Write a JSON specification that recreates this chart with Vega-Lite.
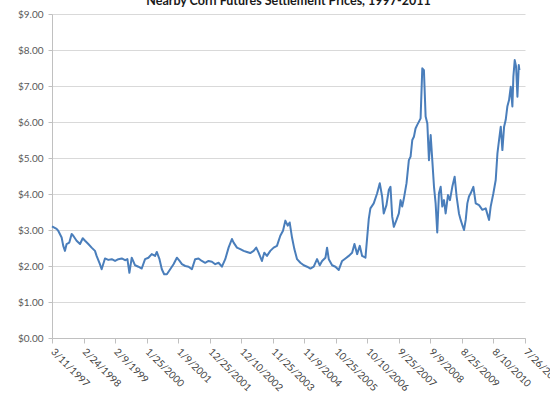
{
  "$schema": "https://vega.github.io/schema/vega-lite/v6.json",
  "width": 473,
  "height": 324,
  "autosize": {"type": "none"},
  "padding": {"left": 52, "top": 14, "right": 25, "bottom": 66},
  "background": "white",
  "title": {
    "text": "Nearby Corn Futures Settlement Prices, 1997-2011",
    "font": "Lato",
    "fontSize": 12.5,
    "fontWeight": "bold",
    "color": "#1a1a1a",
    "anchor": "middle",
    "offset": 2
  },
  "data": {
    "values": [
      {"date": "3/11/1997", "price": 3.1},
      {"date": "5/1/1997", "price": 3.03},
      {"date": "5/19/1997", "price": 2.98},
      {"date": "6/26/1997", "price": 2.79},
      {"date": "7/14/1997", "price": 2.56},
      {"date": "8/2/1997", "price": 2.42},
      {"date": "8/20/1997", "price": 2.61},
      {"date": "9/19/1997", "price": 2.65},
      {"date": "10/15/1997", "price": 2.89},
      {"date": "11/2/1997", "price": 2.84},
      {"date": "12/9/1997", "price": 2.7},
      {"date": "1/16/1998", "price": 2.61},
      {"date": "2/15/1998", "price": 2.77},
      {"date": "3/13/1998", "price": 2.7},
      {"date": "4/18/1998", "price": 2.61},
      {"date": "5/25/1998", "price": 2.51},
      {"date": "7/1/1998", "price": 2.42},
      {"date": "7/19/1998", "price": 2.28},
      {"date": "8/25/1998", "price": 2.05},
      {"date": "9/13/1998", "price": 1.91},
      {"date": "10/20/1998", "price": 2.21},
      {"date": "11/26/1998", "price": 2.17},
      {"date": "1/3/1999", "price": 2.19},
      {"date": "2/9/1999", "price": 2.14},
      {"date": "3/18/1999", "price": 2.19},
      {"date": "4/24/1999", "price": 2.21},
      {"date": "5/31/1999", "price": 2.16},
      {"date": "6/26/1999", "price": 2.19},
      {"date": "7/18/1999", "price": 1.81},
      {"date": "8/13/1999", "price": 2.23},
      {"date": "9/19/1999", "price": 2.02},
      {"date": "10/26/1999", "price": 1.98},
      {"date": "12/2/1999", "price": 1.93},
      {"date": "1/8/2000", "price": 2.19},
      {"date": "2/14/2000", "price": 2.23},
      {"date": "3/22/2000", "price": 2.33},
      {"date": "4/28/2000", "price": 2.28},
      {"date": "5/17/2000", "price": 2.39},
      {"date": "6/16/2000", "price": 2.19},
      {"date": "7/12/2000", "price": 1.91},
      {"date": "8/7/2000", "price": 1.77},
      {"date": "9/6/2000", "price": 1.77},
      {"date": "10/13/2000", "price": 1.91},
      {"date": "11/19/2000", "price": 2.05},
      {"date": "12/26/2000", "price": 2.23},
      {"date": "1/25/2001", "price": 2.14},
      {"date": "2/20/2001", "price": 2.05},
      {"date": "3/29/2001", "price": 2.0},
      {"date": "5/5/2001", "price": 1.98},
      {"date": "6/11/2001", "price": 1.91},
      {"date": "7/17/2001", "price": 2.19},
      {"date": "8/23/2001", "price": 2.21},
      {"date": "9/29/2001", "price": 2.14},
      {"date": "11/5/2001", "price": 2.09},
      {"date": "12/12/2001", "price": 2.14},
      {"date": "1/19/2002", "price": 2.12},
      {"date": "2/25/2002", "price": 2.05},
      {"date": "4/3/2002", "price": 2.09},
      {"date": "5/10/2002", "price": 1.98},
      {"date": "6/16/2002", "price": 2.19},
      {"date": "7/23/2002", "price": 2.51},
      {"date": "8/29/2002", "price": 2.75},
      {"date": "9/17/2002", "price": 2.65},
      {"date": "10/24/2002", "price": 2.51},
      {"date": "11/30/2002", "price": 2.47},
      {"date": "1/6/2003", "price": 2.42},
      {"date": "2/12/2003", "price": 2.39},
      {"date": "3/20/2003", "price": 2.36},
      {"date": "4/27/2003", "price": 2.42},
      {"date": "5/26/2003", "price": 2.51},
      {"date": "6/21/2003", "price": 2.37},
      {"date": "7/28/2003", "price": 2.14},
      {"date": "8/23/2003", "price": 2.37},
      {"date": "9/22/2003", "price": 2.28},
      {"date": "10/29/2003", "price": 2.42},
      {"date": "12/5/2003", "price": 2.51},
      {"date": "1/11/2004", "price": 2.56},
      {"date": "2/17/2004", "price": 2.84},
      {"date": "3/18/2004", "price": 2.98},
      {"date": "4/13/2004", "price": 3.26},
      {"date": "5/9/2004", "price": 3.12},
      {"date": "5/31/2004", "price": 3.21},
      {"date": "6/26/2004", "price": 2.79},
      {"date": "7/22/2004", "price": 2.47},
      {"date": "8/21/2004", "price": 2.19},
      {"date": "9/27/2004", "price": 2.09},
      {"date": "11/3/2004", "price": 2.02},
      {"date": "12/10/2004", "price": 1.98},
      {"date": "1/16/2005", "price": 1.93},
      {"date": "2/22/2005", "price": 1.98},
      {"date": "3/31/2005", "price": 2.19},
      {"date": "4/30/2005", "price": 2.02},
      {"date": "5/26/2005", "price": 2.14},
      {"date": "7/2/2005", "price": 2.23},
      {"date": "7/20/2005", "price": 2.51},
      {"date": "8/8/2005", "price": 2.19},
      {"date": "9/14/2005", "price": 2.02},
      {"date": "10/21/2005", "price": 1.98},
      {"date": "11/27/2005", "price": 1.89},
      {"date": "1/3/2006", "price": 2.14},
      {"date": "2/9/2006", "price": 2.21},
      {"date": "3/18/2006", "price": 2.28},
      {"date": "4/24/2006", "price": 2.37},
      {"date": "5/20/2006", "price": 2.61},
      {"date": "6/19/2006", "price": 2.33},
      {"date": "7/18/2006", "price": 2.56},
      {"date": "8/13/2006", "price": 2.28},
      {"date": "9/19/2006", "price": 2.23},
      {"date": "10/26/2006", "price": 3.31},
      {"date": "11/13/2006", "price": 3.6},
      {"date": "12/20/2006", "price": 3.74},
      {"date": "1/27/2007", "price": 4.02},
      {"date": "2/25/2007", "price": 4.3},
      {"date": "3/23/2007", "price": 3.93},
      {"date": "4/10/2007", "price": 3.46},
      {"date": "5/10/2007", "price": 3.69},
      {"date": "6/5/2007", "price": 4.11},
      {"date": "6/24/2007", "price": 4.2},
      {"date": "7/13/2007", "price": 3.37},
      {"date": "7/31/2007", "price": 3.09},
      {"date": "8/30/2007", "price": 3.28},
      {"date": "9/25/2007", "price": 3.46},
      {"date": "10/14/2007", "price": 3.83},
      {"date": "11/1/2007", "price": 3.65},
      {"date": "11/20/2007", "price": 3.88},
      {"date": "12/19/2007", "price": 4.3},
      {"date": "1/14/2008", "price": 4.94},
      {"date": "2/2/2008", "price": 5.04},
      {"date": "2/21/2008", "price": 5.5},
      {"date": "3/10/2008", "price": 5.59},
      {"date": "3/28/2008", "price": 5.82},
      {"date": "4/16/2008", "price": 5.92},
      {"date": "5/5/2008", "price": 6.01},
      {"date": "5/23/2008", "price": 6.1},
      {"date": "6/11/2008", "price": 7.49},
      {"date": "6/29/2008", "price": 7.44},
      {"date": "7/18/2008", "price": 6.15},
      {"date": "8/6/2008", "price": 5.96},
      {"date": "8/24/2008", "price": 4.94},
      {"date": "9/12/2008", "price": 5.64},
      {"date": "10/1/2008", "price": 4.9},
      {"date": "10/19/2008", "price": 4.2},
      {"date": "11/6/2008", "price": 3.74},
      {"date": "11/24/2008", "price": 2.93},
      {"date": "12/13/2008", "price": 4.02},
      {"date": "1/1/2009", "price": 4.2},
      {"date": "1/19/2009", "price": 3.65},
      {"date": "2/7/2009", "price": 3.83},
      {"date": "2/25/2009", "price": 3.46},
      {"date": "3/23/2009", "price": 3.97},
      {"date": "4/14/2009", "price": 3.83},
      {"date": "5/10/2009", "price": 4.2},
      {"date": "6/5/2009", "price": 4.48},
      {"date": "6/27/2009", "price": 3.93},
      {"date": "7/23/2009", "price": 3.46},
      {"date": "8/11/2009", "price": 3.28},
      {"date": "8/29/2009", "price": 3.14},
      {"date": "9/17/2009", "price": 3.0},
      {"date": "10/6/2009", "price": 3.28},
      {"date": "10/24/2009", "price": 3.74},
      {"date": "11/11/2009", "price": 3.93},
      {"date": "11/30/2009", "price": 4.02},
      {"date": "12/30/2009", "price": 4.2},
      {"date": "1/25/2010", "price": 3.74},
      {"date": "3/3/2010", "price": 3.69},
      {"date": "4/9/2010", "price": 3.56},
      {"date": "5/16/2010", "price": 3.6},
      {"date": "6/22/2010", "price": 3.28},
      {"date": "7/10/2010", "price": 3.65},
      {"date": "8/9/2010", "price": 4.02},
      {"date": "9/4/2010", "price": 4.39},
      {"date": "9/23/2010", "price": 5.13},
      {"date": "10/11/2010", "price": 5.5},
      {"date": "10/30/2010", "price": 5.87},
      {"date": "11/17/2010", "price": 5.22},
      {"date": "12/6/2010", "price": 5.87},
      {"date": "12/24/2010", "price": 6.06},
      {"date": "1/11/2011", "price": 6.43},
      {"date": "1/30/2011", "price": 6.61},
      {"date": "2/18/2011", "price": 6.98},
      {"date": "3/8/2011", "price": 6.43},
      {"date": "3/19/2011", "price": 7.26},
      {"date": "4/3/2011", "price": 7.72},
      {"date": "4/18/2011", "price": 7.54},
      {"date": "5/3/2011", "price": 6.7},
      {"date": "5/18/2011", "price": 7.58},
      {"date": "5/25/2011", "price": 7.44}
    ]
  },
  "mark": {"type": "line", "color": "#4A7EBB", "strokeWidth": 2, "strokeJoin": "round"},
  "encoding": {
    "x": {
      "field": "date",
      "type": "temporal",
      "scale": {
        "domain": [
          {"year": 1997, "month": 3, "date": 11},
          {"year": 2011, "month": 7, "date": 26}
        ],
        "nice": false
      },
      "axis": {
        "title": null,
        "values": [
          {"year": 1997, "month": 3, "date": 11},
          {"year": 1998, "month": 2, "date": 24},
          {"year": 1999, "month": 2, "date": 9},
          {"year": 2000, "month": 1, "date": 25},
          {"year": 2001, "month": 1, "date": 9},
          {"year": 2001, "month": 12, "date": 25},
          {"year": 2002, "month": 12, "date": 10},
          {"year": 2003, "month": 11, "date": 25},
          {"year": 2004, "month": 11, "date": 9},
          {"year": 2005, "month": 10, "date": 25},
          {"year": 2006, "month": 10, "date": 10},
          {"year": 2007, "month": 9, "date": 25},
          {"year": 2008, "month": 9, "date": 9},
          {"year": 2009, "month": 8, "date": 25},
          {"year": 2010, "month": 8, "date": 10},
          {"year": 2011, "month": 7, "date": 26}
        ],
        "format": "%-m/%-d/%Y",
        "labelAngle": 45,
        "labelAlign": "left",
        "labelBaseline": "middle",
        "labelPadding": 7,
        "labelFont": "Lato",
        "labelFontSize": 10,
        "labelColor": "#404040",
        "labelOverlap": false,
        "labelFlush": false,
        "labelBound": false,
        "grid": false,
        "domainColor": "#c0c0c0",
        "tickColor": "#c0c0c0",
        "tickSize": 5
      }
    },
    "y": {
      "field": "price",
      "type": "quantitative",
      "scale": {"domain": [0, 9], "nice": false},
      "axis": {
        "title": null,
        "values": [0, 1, 2, 3, 4, 5, 6, 7, 8, 9],
        "format": "$.2f",
        "labelFont": "Lato",
        "labelFontSize": 10,
        "labelColor": "#595959",
        "labelPadding": 5,
        "grid": true,
        "gridColor": "#d9d9d9",
        "domainColor": "#c0c0c0",
        "tickColor": "#c0c0c0",
        "tickSize": 4
      }
    }
  },
  "config": {
    "view": {"stroke": null}
  }
}
